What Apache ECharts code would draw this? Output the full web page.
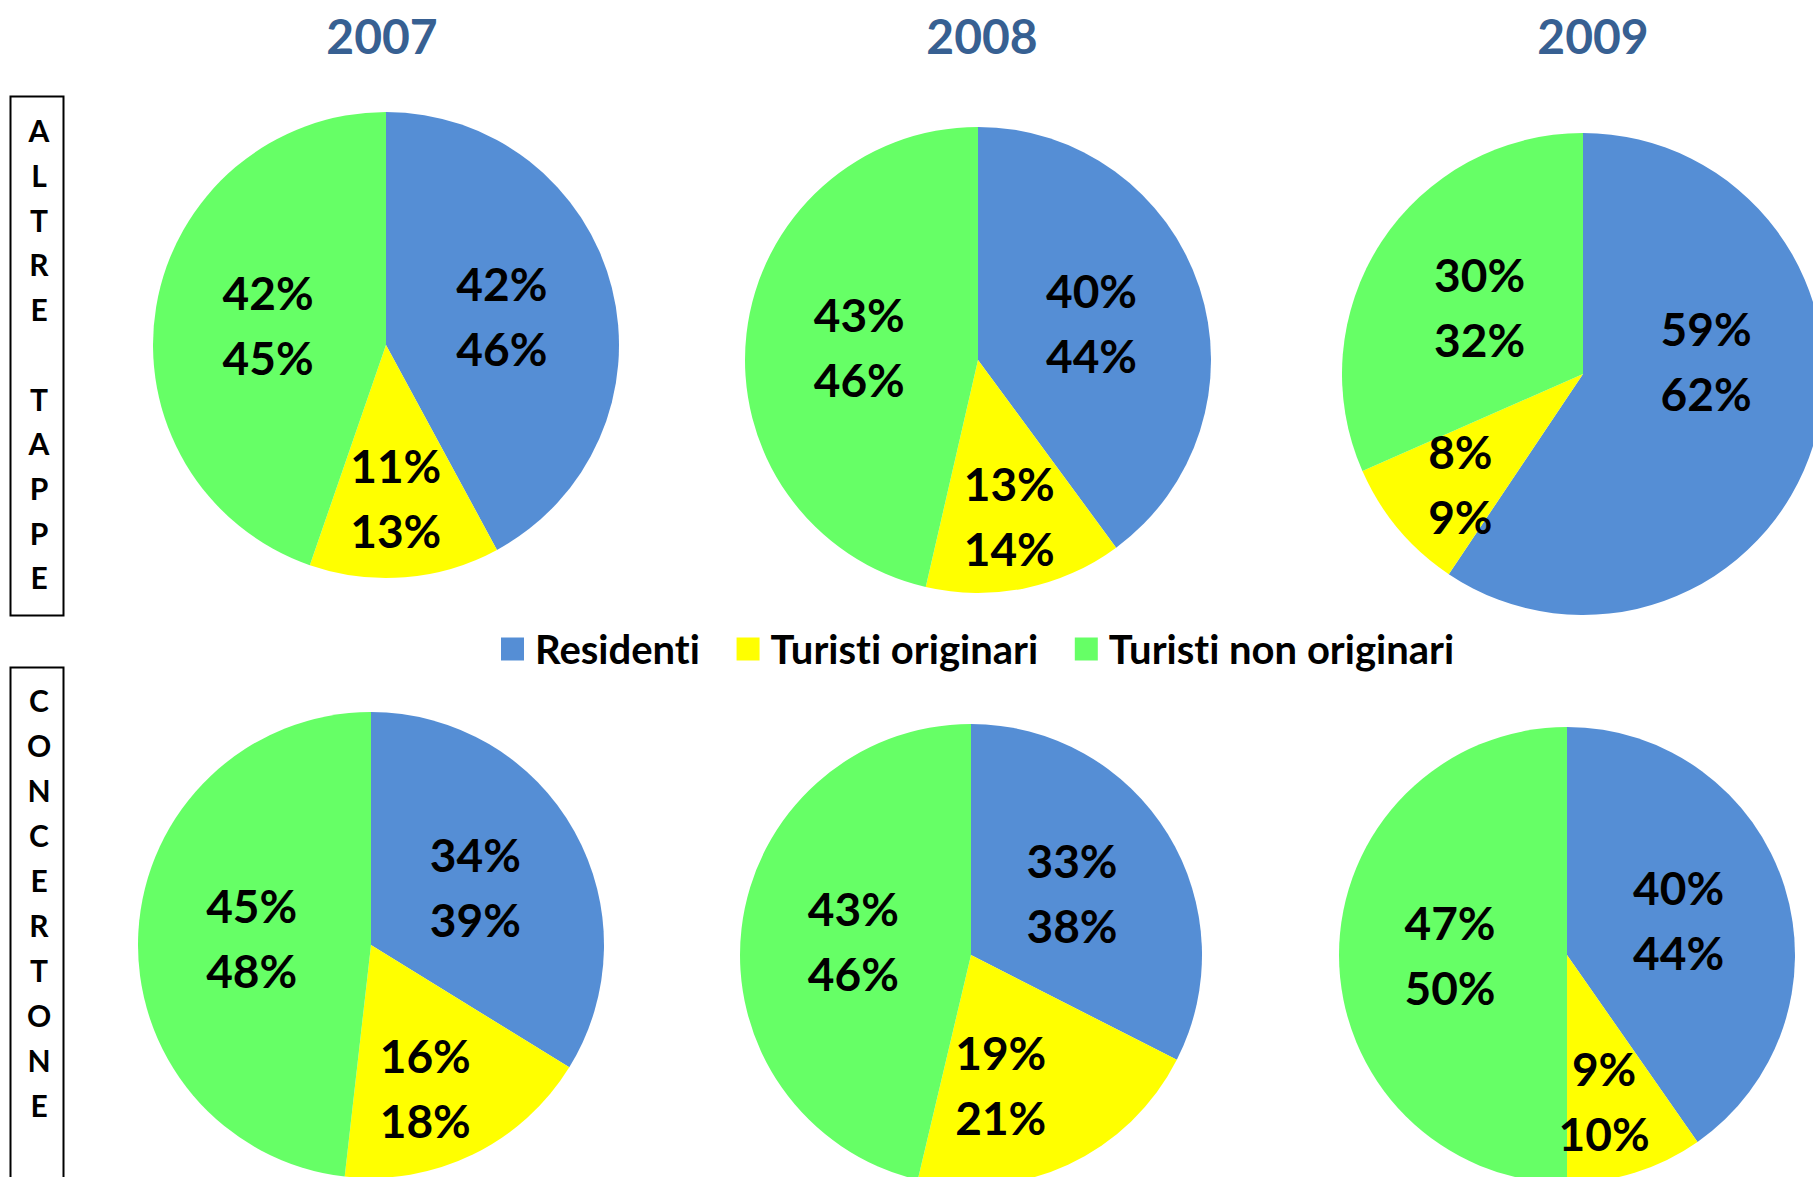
<!DOCTYPE html>
<html>
<head>
<meta charset="utf-8">
<script src="https://cdn.jsdelivr.net/npm/echarts@6/dist/echarts.min.js"></script>
<style>
  html, body { margin: 0; padding: 0; background: #fff; }
  #chart { width: 1813px; height: 1177px; }
  #chart text { font-variant-ligatures: none; }
</style>
</head>
<body>
<div id="chart"></div>
<script>
// data
const years = ["2007", "2008", "2009"];
const categories = ["Residenti", "Turisti originari", "Turisti non originari"];

// slice sizes (%)
const altreShares2007 = [42.1, 13.2, 44.7];
const altreShares2008 = [39.9, 13.7, 46.4];
const altreShares2009 = [59.4, 9.0, 31.6];
const concShares2007 = [33.8, 18.0, 48.2];
const concShares2008 = [32.5, 21.2, 46.3];
const concShares2009 = [40.3, 9.7, 50.0];

// two percentages printed in each slice
const altreTop2007 = [42, 11, 42], altreBottom2007 = [46, 13, 45];
const altreTop2008 = [40, 13, 43], altreBottom2008 = [44, 14, 46];
const altreTop2009 = [59, 8, 30], altreBottom2009 = [62, 9, 32];
const concTop2007 = [34, 16, 45], concBottom2007 = [39, 18, 48];
const concTop2008 = [33, 19, 43], concBottom2008 = [38, 21, 46];
const concTop2009 = [40, 9, 47], concBottom2009 = [44, 10, 50];

const colors = ["#558ED5", "#FFFF00", "#66FF66"];
const font = "Lato, 'Open Sans', sans-serif";

// pie placement (style only)
const pies = [
    { shares: altreShares2007, a: altreTop2007, b: altreBottom2007, center: [386, 345], r: 233, nudge: [[0, 0], [0, 34], [0, 0]] },
    { shares: altreShares2008, a: altreTop2008, b: altreBottom2008, center: [978, 360], r: 233, nudge: [[0, 0], [7, 39], [0, 0]] },
    { shares: altreShares2009, a: altreTop2009, b: altreBottom2009, center: [1583, 374], r: 241, nudge: [[5, -49], [-28, 31], [0, 0]] },
    { shares: concShares2007, a: concTop2007, b: concBottom2007, center: [371, 945], r: 233, nudge: [[0, 0], [2, 36], [0, 0]] },
    { shares: concShares2008, a: concTop2008, b: concBottom2008, center: [971, 955], r: 231, nudge: [[0, 0], [-20, 22], [0, 0]] },
    { shares: concShares2009, a: concTop2009, b: concBottom2009, center: [1567, 955], r: 228, nudge: [[0, 0], [2, 34], [0, 0]] },
];

const chart = echarts.init(document.getElementById("chart"), null, { renderer: "svg" });

const series = pies.map((p, i) => ({
    type: "pie",
    name: "pie" + i,
    center: p.center,
    radius: [0, p.r],
    startAngle: 90,
    clockwise: true,
    animation: false,
    silent: true,
    itemStyle: { borderWidth: 0 },
    label: {
        show: true,
        position: "inside",
        color: "#000",
        fontFamily: font,
        fontWeight: "bold",
        fontSize: 46,
        lineHeight: 65,
        formatter: (params) => p.a[params.dataIndex] + "%\n" + p.b[params.dataIndex] + "%",
    },
    labelLine: { show: false },
    labelLayout: (params) => ({
        dx: p.nudge[params.dataIndex][0],
        dy: p.nudge[params.dataIndex][1],
    }),
    data: categories.map((name, k) => ({
        name: name,
        value: p.shares[k],
        itemStyle: { color: colors[k] },
    })),
}));

const yearX = [382, 982, 1593];
const graphics = years.map((y, i) => ({
    type: "text",
    x: yearX[i],
    y: 35,
    style: {
        text: y,
        fill: "#376092",
        font: "bold 48px " + font,
        textAlign: "center",
        textVerticalAlign: "middle",
    },
}));

// side boxes with vertical labels
graphics.push(
    { type: "rect", shape: { x: 10.5, y: 96.5, width: 53, height: 519 }, style: { fill: "none", stroke: "#000", lineWidth: 2 } },
    { type: "rect", shape: { x: 10.5, y: 667.5, width: 53, height: 540 }, style: { fill: "none", stroke: "#000", lineWidth: 2 } },
    {
        type: "text", x: 39, y: 108,
        style: { text: "A\nL\nT\nR\nE\n \nT\nA\nP\nP\nE", fill: "#000", font: "bold 30px " + font, textAlign: "center", verticalAlign: "top", lineHeight: 44.7 },
    },
    {
        type: "text", x: 39, y: 677,
        style: { text: "C\nO\nN\nC\nE\nR\nT\nO\nN\nE", fill: "#000", font: "bold 30px " + font, textAlign: "center", verticalAlign: "top", lineHeight: 45 },
    }
);

chart.setOption({
    backgroundColor: "#fff",
    animation: false,
    legend: {
        data: categories,
        left: 496,
        top: 624,
        itemWidth: 23,
        itemHeight: 23,
        itemGap: 36,
        icon: "rect",
        selectedMode: false,
        textStyle: { fontFamily: font, fontWeight: "bold", fontSize: 40, color: "#000", padding: [0, 0, 0, 6] },
    },
    graphic: graphics,
    series: series,
});
</script>
</body>
</html>
